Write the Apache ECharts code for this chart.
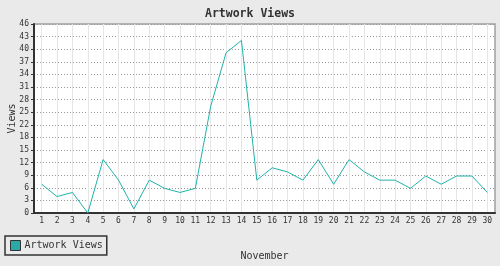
<!DOCTYPE html>
<html>
<head>
<meta charset="utf-8">
<script src="https://cdn.jsdelivr.net/npm/echarts@6/dist/echarts.min.js"></script>
<style>html,body{margin:0;padding:0;background:#eaeaea;}#c{width:500px;height:266px;}</style>
</head>
<body>
<div id="c"></div>
<script>
const days = ['1','2','3','4','5','6','7','8','9','10','11','12','13','14','15','16','17','18','19','20','21','22','23','24','25','26','27','28','29','30'];
const views = [7,4,5,0,13,8,1,8,6,5,6,26,39,42,8,11,10,8,13,7,13,10,8,8,6,9,7,9,9,5];
const yTickLabels = [0,3,6,9,12,15,18,22,25,28,31,34,37,40,43,46];
const yMax = 46;
const yStep = yMax / (yTickLabels.length - 1);
const FONT = 'DejaVu Sans Mono';

const chart = echarts.init(document.getElementById('c'));
chart.setOption({
  backgroundColor: '#eaeaea',
  animation: false,
  title: {
    text: 'Artwork Views',
    left: 'center',
    top: 3,
    textStyle: { fontFamily: FONT, fontSize: 11.5, fontWeight: 'bold', color: '#333' }
  },
  legend: {
    left: 5, top: 236,
    orient: 'horizontal',
    padding: [4, 4, 4, 5],
    borderColor: '#333', borderWidth: 1.5,
    backgroundColor: '#eaeaea',
    itemWidth: 10, itemHeight: 10, itemGap: 4,
    icon: 'rect',
    textStyle: { fontFamily: FONT, fontSize: 10, color: '#333', padding: [0, 0, 0, -1] },
    data: [{ name: 'Artwork Views', itemStyle: { color: '#2aa9a9', borderColor: '#333', borderWidth: 1 } }]
  },
  grid: {
    left: 34, right: 5, top: 24, bottom: 53,
    containLabel: false,
    outerBoundsMode: 'none',
    show: true, backgroundColor: '#ffffff', borderColor: '#a0a0a0', borderWidth: 1.5
  },
  xAxis: {
    type: 'category',
    data: days,
    boundaryGap: true,
    name: 'November',
    nameLocation: 'middle',
    nameGap: 38,
    nameMoveOverlap: false,
    nameTextStyle: { fontFamily: FONT, fontSize: 10, color: '#333' },
    axisLine: { lineStyle: { color: '#333', width: 2 } },
    axisTick: { alignWithLabel: true, length: 3, lineStyle: { color: '#333' } },
    axisLabel: { fontFamily: FONT, fontSize: 8, color: '#333', margin: 4, interval: 0 },
    splitLine: { show: true, alignWithLabel: true, lineStyle: { color: '#e6e6e6', width: 1 } }
  },
  yAxis: {
    type: 'value',
    min: 0, max: yMax, interval: yStep,
    name: 'Views',
    nameLocation: 'middle',
    nameGap: 17,
    nameMoveOverlap: false,
    nameTextStyle: { fontFamily: FONT, fontSize: 10, color: '#333' },
    axisLine: { show: true, lineStyle: { color: '#333', width: 2 } },
    axisTick: { show: true, length: 3, lineStyle: { color: '#333' } },
    axisLabel: {
      fontFamily: FONT, fontSize: 8, color: '#333', margin: 5,
      formatter: v => String(yTickLabels[Math.round(v / yStep)])
    },
    splitLine: { show: true, lineStyle: { color: '#999', type: [1, 2], width: 1 } }
  },
  series: [{
    name: 'Artwork Views',
    type: 'line',
    data: views,
    showSymbol: false,
    symbol: 'none',
    color: '#2aa9a9',
    lineStyle: { color: '#20b2aa', width: 1 }
  }]
});
</script>
</body>
</html>
